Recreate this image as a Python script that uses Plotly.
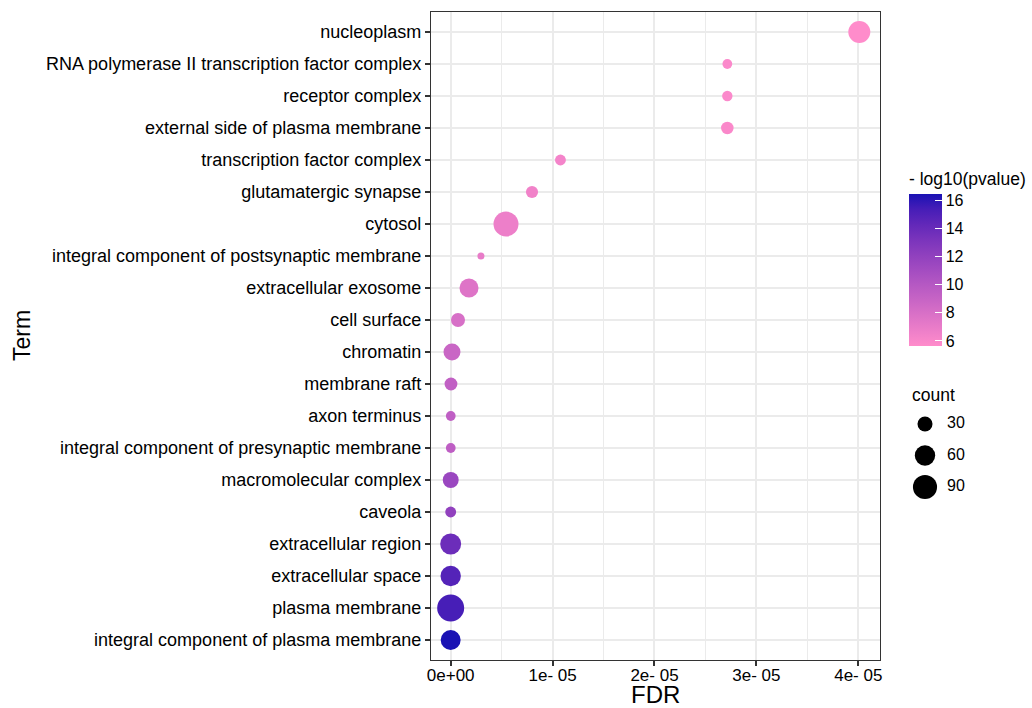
import numpy as np
import plotly.graph_objects as go

# ---- data (top to bottom as displayed) ----
terms = [
    "nucleoplasm",
    "RNA polymerase II transcription factor complex",
    "receptor complex",
    "external side of plasma membrane",
    "transcription factor complex",
    "glutamatergic synapse",
    "cytosol",
    "integral component of postsynaptic membrane",
    "extracellular exosome",
    "cell surface",
    "chromatin",
    "membrane raft",
    "axon terminus",
    "integral component of presynaptic membrane",
    "macromolecular complex",
    "caveola",
    "extracellular region",
    "extracellular space",
    "plasma membrane",
    "integral component of plasma membrane",
]
fdr = [4.01e-5, 2.715e-5, 2.715e-5, 2.715e-5, 1.077e-5, 0.798e-5, 0.543e-5,
       0.297e-5, 0.18e-5, 0.072e-5, 0.013e-5, 0.003e-5, 0.001e-5, 0.001e-5,
       0.0005e-5, 0.0003e-5, 0.0001e-5, 0.0001e-5, 0.00005e-5, 0.00001e-5]
counts = [72, 15, 16, 21, 17, 20, 98, 13, 51, 26, 39, 22, 15, 15, 34, 17, 64, 60, 118, 57]
neglogp = [5.64, 5.85, 5.9, 5.95, 6.3, 6.5, 6.7, 7.0, 7.6, 8.0, 8.8, 9.3, 9.4, 9.5,
           11.5, 12.0, 13.8, 14.8, 15.3, 16.43]
x_ticks = [0, 1e-5, 2e-5, 3e-5, 4e-5]
x_ticklabels = ["0e+00", "1e- 05", "2e- 05", "3e- 05", "4e- 05"]
cb_ticks = [6, 8, 10, 12, 14, 16]
size_breaks = [30, 60, 90]

# ---- styling helpers ----
LOW, HIGH = "#FF8CCB", "#1A12B4"

def hex2rgb(h):
    h = h.lstrip("#")
    return np.array([int(h[i:i + 2], 16) for i in (0, 2, 4)]) / 255.0

def srgb2lin(c):
    return np.where(c <= 0.04045, c / 12.92, ((c + 0.055) / 1.055) ** 2.4)

def lin2srgb(c):
    return np.where(c <= 0.0031308, 12.92 * c, 1.055 * np.power(np.clip(c, 0, None), 1 / 2.4) - 0.055)

M = np.array([[0.4124, 0.3576, 0.1805], [0.2126, 0.7152, 0.0722], [0.0193, 0.1192, 0.9505]])
Minv = np.linalg.inv(M)
WP = np.array([0.95047, 1.0, 1.08883])

def f(t):
    return np.where(t > (6 / 29) ** 3, np.cbrt(t), t / (3 * (6 / 29) ** 2) + 4 / 29)

def finv(t):
    return np.where(t > 6 / 29, t ** 3, 3 * (6 / 29) ** 2 * (t - 4 / 29))

def rgb2lab(rgb):
    xyz = M @ srgb2lin(rgb) / WP
    fx, fy, fz = f(xyz)
    return np.array([116 * fy - 16, 500 * (fx - fy), 200 * (fy - fz)])

def lab2rgb(lab):
    L, a, b = lab
    fy = (L + 16) / 116
    xyz = np.array([finv(fy + a / 500), finv(fy), finv(fy - b / 200)]) * WP
    return np.clip(lin2srgb(Minv @ xyz), 0, 1)

l1, l2 = rgb2lab(hex2rgb(LOW)), rgb2lab(hex2rgb(HIGH))
colorscale = []
for t in np.linspace(0, 1, 11):
    r, g, b = (lab2rgb(l1 + (l2 - l1) * t) * 255).round().astype(int)
    colorscale.append([float(t), f"rgb({r},{g},{b})"])

cmin_c, cmax_c = min(counts), max(counts)
D0, D1 = 7.0, 27.0

def diam(c):
    c = np.asarray(c, dtype=float)
    return D0 + (D1 - D0) * np.sqrt(np.clip((c - cmin_c) / (cmax_c - cmin_c), 0, 1))

W, H = 1032, 708
PL, PR, PT, PB = 431, 880, 12, 660          # panel edges in window px
L_M, T_M, B_M = PL, PT, H - PB
plot_w = W - L_M
plot_h = H - T_M - B_M
main_frac = (PR - PL) / plot_w

def px2paper_x(px):
    return (px - L_M) / plot_w

def py2paper_y(py):
    return (H - B_M - py) / plot_h

FONT = "Liberation Sans"
fig = go.Figure()
fig.add_trace(go.Scatter(
    x=fdr, y=terms, mode="markers",
    marker=dict(
        size=diam(counts), color=neglogp, colorscale=colorscale,
        cmin=min(neglogp), cmax=max(neglogp), opacity=1, line=dict(width=0),
        colorbar=dict(
            title=dict(text="- log10(pvalue)", side="top",
                       font=dict(size=17.5, color="black", family=FONT)),
            thickness=33, lenmode="pixels", len=177,
            x=px2paper_x(909), xanchor="left", y=py2paper_y(346), yanchor="bottom",
            xpad=0, ypad=0, outlinewidth=0,
            tickvals=cb_ticks, ticks="inside", ticklen=7, tickcolor="white", tickwidth=1.2,
            tickfont=dict(size=16, color="black", family=FONT),
        ),
    ),
    showlegend=False, hoverinfo="x+y",
))

# size legend
fig.add_trace(go.Scatter(
    x=[0] * len(size_breaks), y=size_breaks, mode="markers",
    marker=dict(size=diam(size_breaks), color="#000000", opacity=1, line=dict(width=0)),
    xaxis="x2", yaxis="y2", showlegend=False, hoverinfo="skip",
))
fig.add_trace(go.Scatter(
    x=[1] * len(size_breaks), y=size_breaks, mode="text",
    text=[str(s) for s in size_breaks], textposition="middle right",
    textfont=dict(size=16, color="black", family=FONT),
    xaxis="x2", yaxis="y2", showlegend=False, hoverinfo="skip",
))

grid_c = "#EBEBEB"
fig.update_layout(
    width=W, height=H,
    margin=dict(l=L_M, r=0, t=T_M, b=B_M, autoexpand=False),
    plot_bgcolor="white", paper_bgcolor="white",
    font=dict(family=FONT, color="black"),
    xaxis=dict(
        domain=[0, main_frac], range=[-0.193e-5, 4.213e-5],
        tickvals=x_ticks, ticktext=x_ticklabels,
        tickfont=dict(size=17, color="black"),
        ticks="outside", ticklen=5, tickcolor="#333333", tickwidth=1.5,
        ticklabelstandoff=-6,
        showgrid=True, gridcolor=grid_c, gridwidth=2, zeroline=False,
        minor=dict(dtick=0.5e-5, tick0=0, showgrid=True, gridcolor=grid_c, gridwidth=1, ticks=""),
        showline=True, linecolor="#333333", linewidth=1.3, mirror=True,
    ),
    yaxis=dict(
        type="category", categoryorder="array", categoryarray=terms[::-1],
        range=[-0.625, 19.625],
        tickfont=dict(size=18, color="black"),
        ticks="outside", ticklen=5, tickcolor="#333333", tickwidth=1.5,
        showgrid=True, gridcolor=grid_c, gridwidth=2, zeroline=False,
        showline=True, linecolor="#333333", linewidth=1.3, mirror=True,
    ),
    xaxis2=dict(domain=[px2paper_x(903), px2paper_x(969)], range=[-1, 2],
                visible=False, anchor="y2", fixedrange=True),
    yaxis2=dict(domain=[py2paper_y(510), py2paper_y(400)], range=[111.9, 7.14],
                visible=False, anchor="x2", fixedrange=True),
    annotations=[
        dict(text="Term", x=px2paper_x(22), y=py2paper_y(336), xref="paper", yref="paper",
             textangle=-90, showarrow=False, font=dict(size=23, color="black"),
             xanchor="center", yanchor="middle"),
        dict(text="FDR", x=px2paper_x(655), y=py2paper_y(694), xref="paper", yref="paper",
             showarrow=False, font=dict(size=24, color="black"),
             xanchor="center", yanchor="middle"),
        dict(text="count", x=px2paper_x(910), y=py2paper_y(395), xref="paper", yref="paper",
             showarrow=False, font=dict(size=17.5, color="black"),
             xanchor="left", yanchor="middle"),
    ],
)

fig.write_html(
    "out.html",
    config={"displayModeBar": False},
    post_script="document.body.style.margin='0';document.body.style.overflow='hidden';",
)
